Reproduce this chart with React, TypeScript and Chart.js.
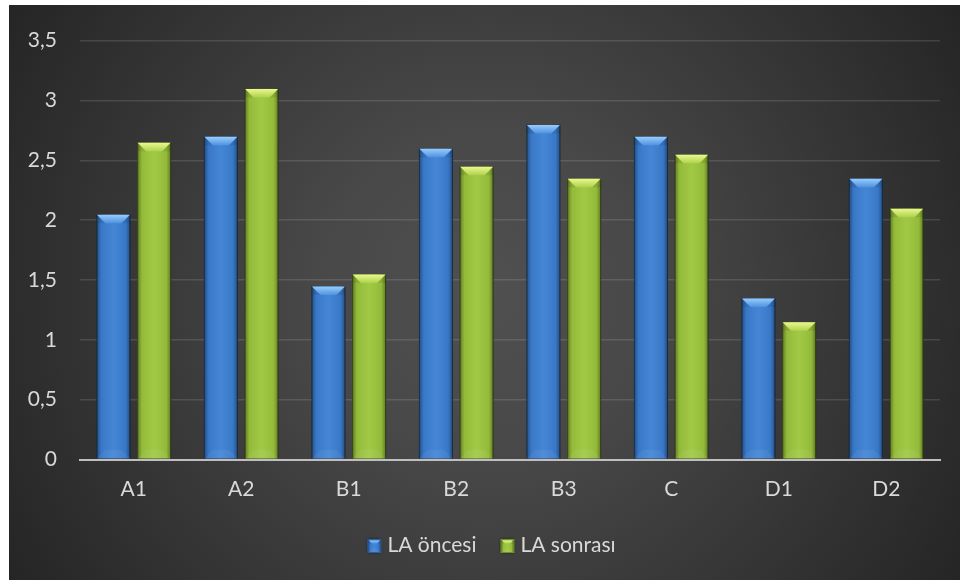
import React, { useEffect, useRef } from "react";
import { Chart, registerables } from "chart.js";

Chart.register(...registerables);

// Categories and series
const categories: string[] = ["A1", "A2", "B1", "B2", "B3", "C", "D1", "D2"];
const laOncesi: number[] = [2.05, 2.7, 1.45, 2.6, 2.8, 2.7, 1.35, 2.35];
const laSonrasi: number[] = [2.65, 3.1, 1.55, 2.45, 2.35, 2.55, 1.15, 2.1];
const seriesNames: string[] = ["LA öncesi", "LA sonrası"];

// Y axis range
const yMin = 0;
const yMax = 3.5;
const yStep = 0.5;

const FONT = "Lato, 'Open Sans', sans-serif";
const TEXT = "#d9d9d9";

type Palette = {
  base: string;
  border: string;
  hi: string;
  lo: string;
};

const palettes: Palette[] = [
  { base: "#3b7fd3", border: "#2b5c9e", hi: "#9dd0fb", lo: "#4f92e2" },
  { base: "#9cc63c", border: "#6f8f27", hi: "#eefa96", lo: "#add24a" },
];

function paintBevel(
  ctx: CanvasRenderingContext2D,
  x0: number,
  x1: number,
  yTop: number,
  yBase: number,
  pal: Palette,
  depth: number
) {
  const w = x1 - x0;
  const h = yBase - yTop;
  if (w <= 0 || h <= 0) return;

  // edge shading across the bar
  const g = ctx.createLinearGradient(x0, 0, x1, 0);
  g.addColorStop(0, "rgba(0,0,0,0.40)");
  g.addColorStop(0.14, "rgba(0,0,0,0.06)");
  g.addColorStop(0.5, "rgba(255,255,255,0.05)");
  g.addColorStop(0.86, "rgba(0,0,0,0.06)");
  g.addColorStop(1, "rgba(0,0,0,0.40)");
  ctx.fillStyle = g;
  ctx.fillRect(x0, yTop, w, h);

  const d = Math.min(depth, w / 3.5, h / 2);

  // side faces of the top bevel
  ctx.fillStyle = "rgba(0,0,0,0.08)";
  ctx.beginPath();
  ctx.moveTo(x0, yTop);
  ctx.lineTo(x0 + d, yTop + d);
  ctx.lineTo(x0, yTop + d);
  ctx.closePath();
  ctx.fill();
  ctx.beginPath();
  ctx.moveTo(x1, yTop);
  ctx.lineTo(x1 - d, yTop + d);
  ctx.lineTo(x1, yTop + d);
  ctx.closePath();
  ctx.fill();

  // top face of the bevel
  const tg = ctx.createLinearGradient(0, yTop, 0, yTop + d);
  tg.addColorStop(0, pal.hi);
  tg.addColorStop(1, pal.lo);
  ctx.fillStyle = tg;
  ctx.beginPath();
  ctx.moveTo(x0 + 0.5, yTop + 0.5);
  ctx.lineTo(x1 - 0.5, yTop + 0.5);
  ctx.lineTo(x1 - d, yTop + d);
  ctx.lineTo(x0 + d, yTop + d);
  ctx.closePath();
  ctx.fill();

  // faint bottom bevel
  const bd = Math.min(d, h / 3);
  ctx.fillStyle = "rgba(255,255,255,0.06)";
  ctx.beginPath();
  ctx.moveTo(x0 + bd, yBase - bd);
  ctx.lineTo(x1 - bd, yBase - bd);
  ctx.lineTo(x1, yBase);
  ctx.lineTo(x0, yBase);
  ctx.closePath();
  ctx.fill();
}

const backgroundPlugin = {
  id: "darkBackground",
  beforeDraw(chart: Chart) {
    const { ctx, width, height } = chart;
    const cx = width / 2;
    const cy = height / 2;
    const r = Math.sqrt(cx * cx + cy * cy);
    const g = ctx.createRadialGradient(cx, cy, 0, cx, cy, r);
    g.addColorStop(0, "#505050");
    g.addColorStop(0.3, "#484848");
    g.addColorStop(1, "#252525");
    ctx.save();
    ctx.fillStyle = g;
    ctx.fillRect(0, 0, width, height);
    ctx.restore();
  },
};

const barStylePlugin = {
  id: "bevelBars",
  beforeDatasetsDraw(chart: Chart) {
    const ctx = chart.ctx;
    ctx.save();
    ctx.shadowColor = "rgba(0,0,0,0.45)";
    ctx.shadowBlur = 6;
    ctx.shadowOffsetX = 1;
    ctx.shadowOffsetY = 1;
  },
  afterDatasetsDraw(chart: Chart) {
    const ctx = chart.ctx;
    ctx.restore();
    ctx.save();
    chart.data.datasets.forEach((_, di) => {
      const meta = chart.getDatasetMeta(di);
      const pal = palettes[di % palettes.length];
      meta.data.forEach((el: any) => {
        const { x, y, base, width } = el.getProps(["x", "y", "base", "width"], true);
        paintBevel(ctx, x - width / 2, x + width / 2, y, base, pal, 9);
      });
    });
    ctx.restore();
  },
};

const legendPlugin = {
  id: "bottomLegend",
  afterDraw(chart: Chart) {
    const ctx = chart.ctx;
    const box = 14;
    const gapText = 6;
    const gapItem = 24;
    ctx.save();
    ctx.font = `21px ${FONT}`;
    ctx.textBaseline = "middle";
    ctx.textAlign = "left";
    const widths = seriesNames.map((s) => ctx.measureText(s).width);
    const total =
      widths.reduce((a, w) => a + box + gapText + w, 0) + gapItem * (seriesNames.length - 1);
    const centerX = chart.width / 2 + 7;
    const cy = chart.height - 35;
    let x = centerX - total / 2;
    seriesNames.forEach((name, i) => {
      const pal = palettes[i];
      const top = cy - box / 2 + 1;
      ctx.save();
      ctx.shadowColor = "rgba(0,0,0,0.4)";
      ctx.shadowBlur = 3;
      ctx.fillStyle = pal.border;
      ctx.fillRect(x, top, box, box);
      ctx.restore();
      ctx.fillStyle = pal.base;
      ctx.fillRect(x + 1, top + 1, box - 2, box - 2);
      paintBevel(ctx, x + 1, x + box - 1, top + 1, top + box - 1, pal, 5);
      ctx.fillStyle = TEXT;
      ctx.fillText(name, x + box + gapText, cy);
      x += box + gapText + widths[i] + gapItem;
    });
    ctx.restore();
  },
};

export default function App() {
  const canvasRef = useRef<HTMLCanvasElement | null>(null);

  useEffect(() => {
    const canvas = canvasRef.current;
    if (!canvas) return;
    const chart = new Chart(canvas, {
      type: "bar",
      data: {
        labels: categories,
        datasets: [
          {
            label: seriesNames[0],
            data: laOncesi,
            backgroundColor: palettes[0].base,
            borderColor: palettes[0].border,
            borderWidth: 1,
            categoryPercentage: 0.757,
            barPercentage: 0.835,
          },
          {
            label: seriesNames[1],
            data: laSonrasi,
            backgroundColor: palettes[1].base,
            borderColor: palettes[1].border,
            borderWidth: 1,
            categoryPercentage: 0.757,
            barPercentage: 0.835,
          },
        ],
      },
      options: {
        responsive: false,
        animation: false,
        events: [],
        layout: { padding: { left: 0, right: 20, top: 29.7, bottom: 70.5 } },
        plugins: {
          legend: { display: false },
          tooltip: { enabled: false },
        },
        scales: {
          x: {
            z: 1,
            grid: { display: false, drawTicks: false },
            border: { display: true, color: "#bfbfbf", width: 2 },
            ticks: {
              color: TEXT,
              font: { family: FONT, size: 21 },
              padding: 17,
            },
            afterFit: (s: any) => {
              s.height = 50;
            },
          },
          y: {
            min: yMin,
            max: yMax,
            grid: {
              color: (c: any) => (c.tick && c.tick.value === 0 ? "rgba(0,0,0,0)" : "rgba(255,255,255,0.12)"),
              lineWidth: 1.5,
              drawTicks: false,
            },
            border: { display: false },
            ticks: {
              stepSize: yStep,
              color: TEXT,
              font: { family: FONT, size: 21 },
              padding: 23,
              callback: (v: any) => String(v).replace(".", ","),
            },
            afterFit: (s: any) => {
              s.width = 71;
            },
          },
        },
      },
      plugins: [backgroundPlugin, barStylePlugin, legendPlugin],
    });
    return () => chart.destroy();
  }, []);

  return (
    <div style={{ position: "fixed", left: 9, top: 5, width: 951, height: 575 }}>
      <canvas ref={canvasRef} width={951} height={575} style={{ display: "block" }} />
    </div>
  );
}
